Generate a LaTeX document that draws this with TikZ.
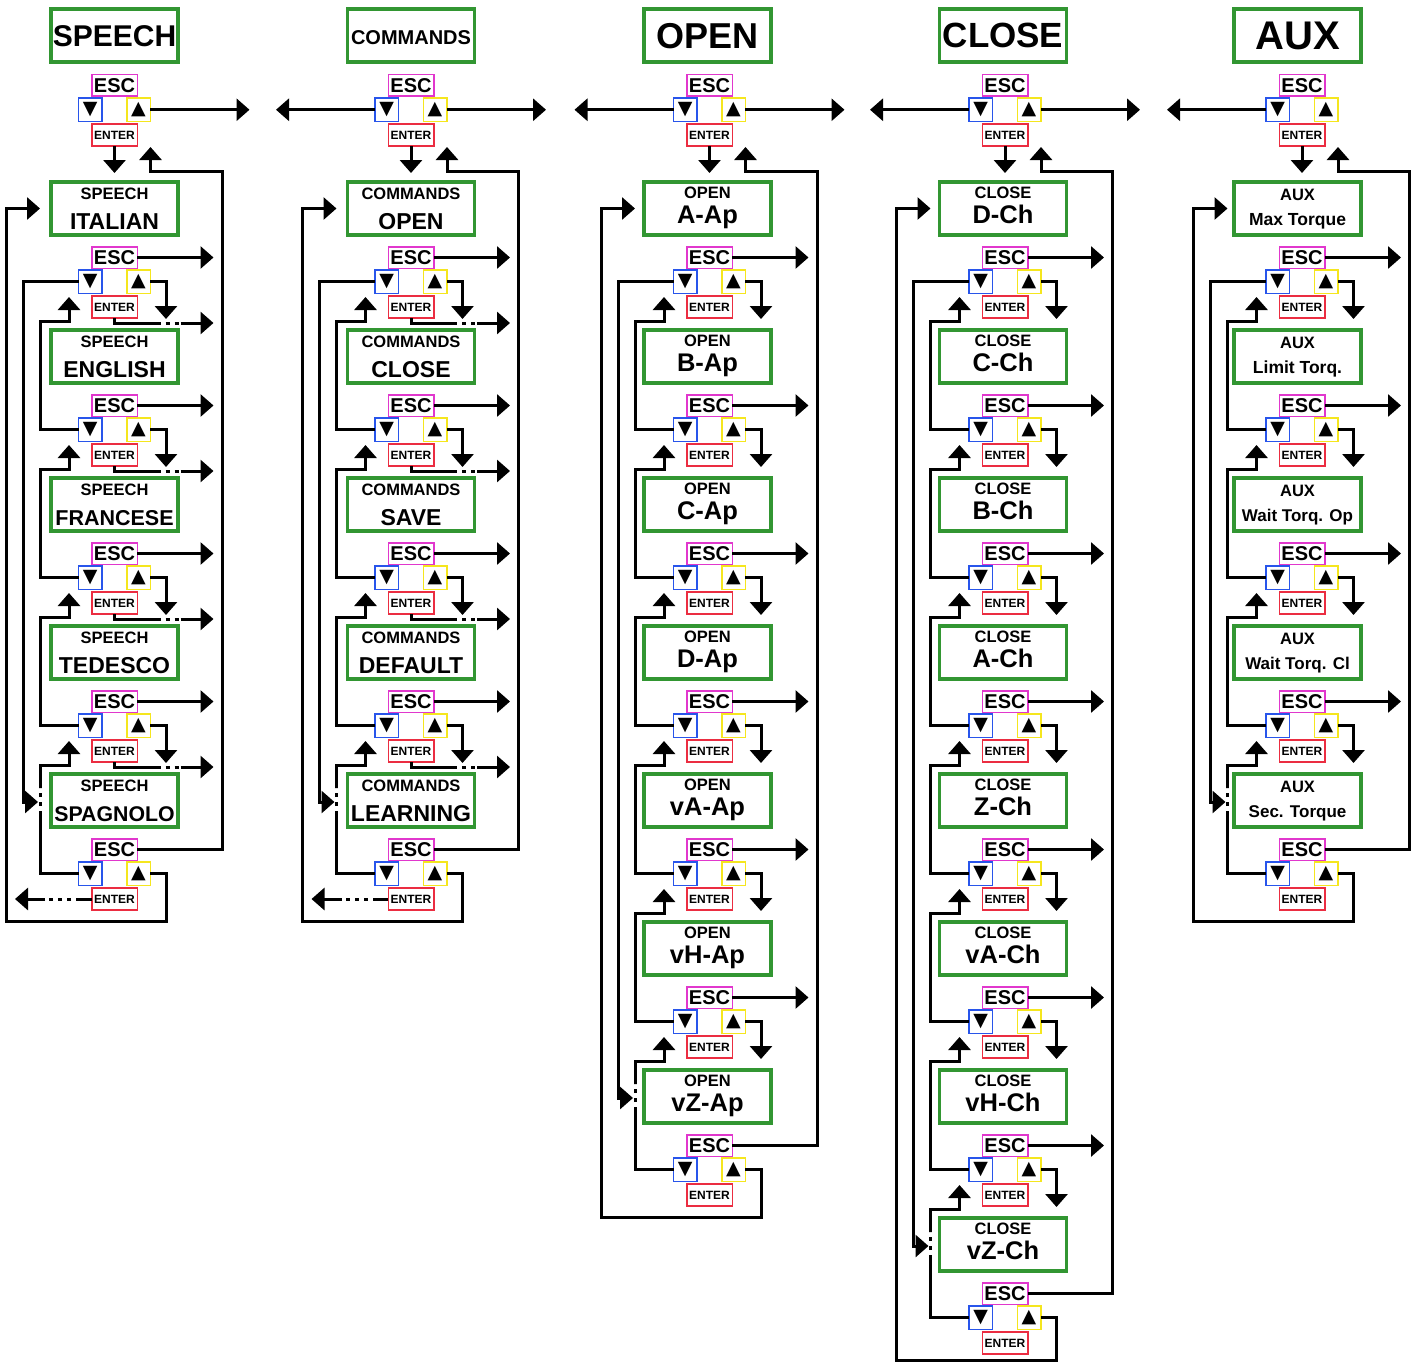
\documentclass[tikz,border=0pt]{standalone}
\usepackage{fontspec}
\setmainfont{Liberation Sans}
\newfontfamily\symfont{DejaVu Sans}
\usetikzlibrary{arrows.meta}
\definecolor{boxgreen}{RGB}{50,150,50}
\definecolor{escpink}{RGB}{225,55,205}
\definecolor{dnblue}{RGB}{40,85,235}
\definecolor{upyellow}{RGB}{245,230,30}
\definecolor{entred}{RGB}{235,45,65}
\newcommand{\fsz}[1]{\fontsize{#1}{#1}\selectfont}
\tikzset{
  wire/.style={line width=3pt},
  conn/.style={wire,-{Triangle[length=13pt,width=22pt]}},
  dots/.style={wire,dash pattern=on 4pt off 5pt},
  gbox/.style={draw=boxgreen,line width=3.5pt,minimum width=127pt,minimum height=53pt,inner sep=0pt,outer sep=0pt},
  keybase/.style={line width=1.5pt,inner sep=0pt,outer sep=0pt},
  keyesc/.style={keybase,draw=escpink,minimum width=45.5pt,minimum height=21.5pt,font=\bfseries\fsz{20}},
  keydn/.style={keybase,draw=dnblue,minimum width=23.5pt,minimum height=23.5pt,font=\symfont\fsz{19}},
  keyup/.style={keybase,draw=upyellow,minimum width=23.5pt,minimum height=23.5pt,font=\symfont\fsz{19}},
  keyent/.style={keybase,draw=entred,minimum width=45.5pt,minimum height=22pt,font=\bfseries\fsz{12}},
  lbl/.style={anchor=base,inner sep=0pt},
}
\newcommand{\keypad}[3]{%
  \node[keyesc] (#1e) at (#2,#3+11.5) {ESC};
  \node[keydn] (#1d) at (#2-24.25,#3+35.75) {▼};
  \node[keyup] (#1u) at (#2+24,#3+35.75) {▲};
  \node[keyent] (#1n) at (#2,#3+61) {ENTER};
}
\newcommand{\DrawColumn}[1]{%
  \pgfmathsetmacro\tn{246+148*(\nitems-1)}%
  \pgfmathsetmacro\Bn{182+148*(\nitems-1)}%
  \pgfmathsetmacro\ybot{min(\tn+83,1360.5)}%
  \pgfmathsetmacro\xo{\kx-108.5}%
  \pgfmathsetmacro\xw{\kx-91.5}%
  \pgfmathsetmacro\xc{\kx-74.5}%
  \pgfmathsetmacro\xa{\kx-45.5}%
  \pgfmathsetmacro\xu{\kx+51.5}%
  \pgfmathsetmacro\xe{\kx+99}%
  \pgfmathsetmacro\xr{\kx+107.5}%
  \pgfmathsetmacro\xt{\kx+36}%
  \node[gbox] (T\cid) at (\bx,35.5) {};
  \node[lbl,font=\bfseries\fsz{\tfs}] (T\cid t) at (\bx,\tbase) {\ttext};
  \keypad{K\cid-0}{\kx}{74}
  \foreach \biglab/\bfs [count=\j] in {#1} {
    \pgfmathsetmacro\By{182+148*(\j-1)}
    \pgfmathsetmacro\ty{246+148*(\j-1)}
    \node[gbox] (B\cid-\j) at (\bx,\By+26.5) {};
    \node[lbl,font=\bfseries\fsz{16.5}] (B\cid-\j s) at (\bx,\By+\smoff) {\smlabel};
    \node[lbl,font=\bfseries\fsz{\bfs}] (B\cid-\j b) at (\bx,\By+\bigoff) {\biglab};
    \keypad{K\cid-\j}{\kx}{\ty}
  }
  % top keypad
  \draw[conn] (K\cid-0n.south) -- (\kx,173);
  \ifnum\hasleft=1 \draw[conn] (K\cid-0d.west) -- (\kx-135,109.75); \fi
  \ifnum\hasright=1 \draw[conn] (K\cid-0u.east) -- (\kx+135,109.75); \fi
  % return loop on the right
  \draw[conn] (K\cid-\nitems e.east) -- (\xr,\tn+11.5) -- (\xr,171) -- (\xt,171) -- (\xt,147);
  % outer wrap loop
  \draw[conn] (K\cid-\nitems u.east) -- (\xu,\tn+35.75) -- (\xu,\ybot) -- (\xo,\ybot) -- (\xo,208.5) -- (\xc,208.5);
  \ifnum\hasenter=1
    \draw[wire] (K\cid-\nitems n.west) -- (\kx-34.5,\tn+61);
    \draw[dots] (\kx-34.5,\tn+61) -- (\kx-69.5,\tn+61);
    \draw[conn] (\kx-69.5,\tn+61) -- (\kx-99.5,\tn+61);
  \fi
  \foreach \j in {1,...,\nitems} {
    \pgfmathsetmacro\ty{246+148*(\j-1)}
    \pgfmathsetmacro\typ{246+148*(\j-2)}
    \ifnum\j<\nitems
      \draw[conn] (K\cid-\j e.east) -- (\xe,\ty+11.5);
      \draw[conn] (K\cid-\j u.east) -- (\xu,\ty+35.75) -- (\xu,\ty+73);
      \ifnum\hasenter=1
        \draw[wire] (K\cid-\j n.south) -- (\kx,\ty+77) -- (\kx+42,\ty+77);
        \draw[dots] (\kx+42,\ty+77) -- (\kx+66,\ty+77);
        \draw[conn] (\kx+66,\ty+77) -- (\xe,\ty+77);
      \fi
    \fi
    \ifnum\j=1
      \draw[conn] (K\cid-1d.west) -- (\xw,\ty+35.75) -- (\xw,\Bn+28) -- (\xc-2,\Bn+28);
    \else
      \ifnum\j<\nitems
        \draw[conn] (K\cid-\j d.west) -- (\xc,\ty+35.75) -- (\xc,\typ+75) -- (\xa,\typ+75) -- (\xa,\typ+51);
      \else
        \draw[wire] (K\cid-\j d.west) -- (\xc,\ty+35.75) -- (\xc,\Bn+41);
        \draw[dots] (\xc,\Bn+41) -- (\xc,\Bn+14);
        \draw[conn] (\xc,\Bn+14) -- (\xc,\typ+75) -- (\xa,\typ+75) -- (\xa,\typ+51);
      \fi
    \fi
  }
}
\begin{document}
\begin{tikzpicture}[x=1pt,y=-1pt]
\useasboundingbox (0,0) rectangle (1415,1362);
\fill[white] (0,0) rectangle (1415,1362);
% SPEECH
\def\cid{1}\def\bx{114.5}\def\kx{114.5}\def\nitems{5}\def\hasenter{1}\def\hasleft{0}\def\hasright{1}%
\def\tfs{30}\def\tbase{47}\def\ttext{SPEECH}\def\smlabel{SPEECH}\def\smoff{17}\def\bigoff{47}%
\DrawColumn{ITALIAN/23,ENGLISH/23,FRANCESE/21.5,TEDESCO/23,SPAGNOLO/21.3}
% COMMANDS
\def\cid{2}\def\bx{411}\def\kx{411}\def\nitems{5}\def\hasenter{1}\def\hasleft{1}\def\hasright{1}%
\def\tfs{20}\def\tbase{45}\def\ttext{COMMANDS}\def\smlabel{COMMANDS}\def\smoff{17}\def\bigoff{47}%
\DrawColumn{OPEN/23,CLOSE/23,SAVE/23,DEFAULT/23,LEARNING/23}
% OPEN
\def\cid{3}\def\bx{707.5}\def\kx{709.5}\def\nitems{7}\def\hasenter{0}\def\hasleft{1}\def\hasright{1}%
\def\tfs{36}\def\tbase{48.5}\def\ttext{OPEN}\def\smlabel{OPEN}\def\smoff{16}\def\bigoff{41}%
\DrawColumn{A-Ap/25.5,B-Ap/25.5,C-Ap/25.5,D-Ap/25.5,vA-Ap/25.5,vH-Ap/25.5,vZ-Ap/25.5}
% CLOSE
\def\cid{4}\def\bx{1003}\def\kx{1005}\def\nitems{8}\def\hasenter{0}\def\hasleft{1}\def\hasright{1}%
\def\tfs{35}\def\tbase{48}\def\ttext{CLOSE}\def\smlabel{CLOSE}\def\smoff{16}\def\bigoff{41}%
\DrawColumn{D-Ch/25.5,C-Ch/25.5,B-Ch/25.5,A-Ch/25.5,Z-Ch/25.5,vA-Ch/25.5,vH-Ch/25.5,vZ-Ch/25.5}
% AUX
\def\cid{5}\def\bx{1297.5}\def\kx{1302}\def\nitems{5}\def\hasenter{0}\def\hasleft{1}\def\hasright{0}%
\def\tfs{40}\def\tbase{50}\def\ttext{AUX}\def\smlabel{AUX}\def\smoff{18}\def\bigoff{43}%
\DrawColumn{Max Torque/17.5,Limit Torq./17.5,Wait Torq. Op/17,Wait Torq. Cl/17,Sec. Torque/17}
\end{tikzpicture}
\end{document}
